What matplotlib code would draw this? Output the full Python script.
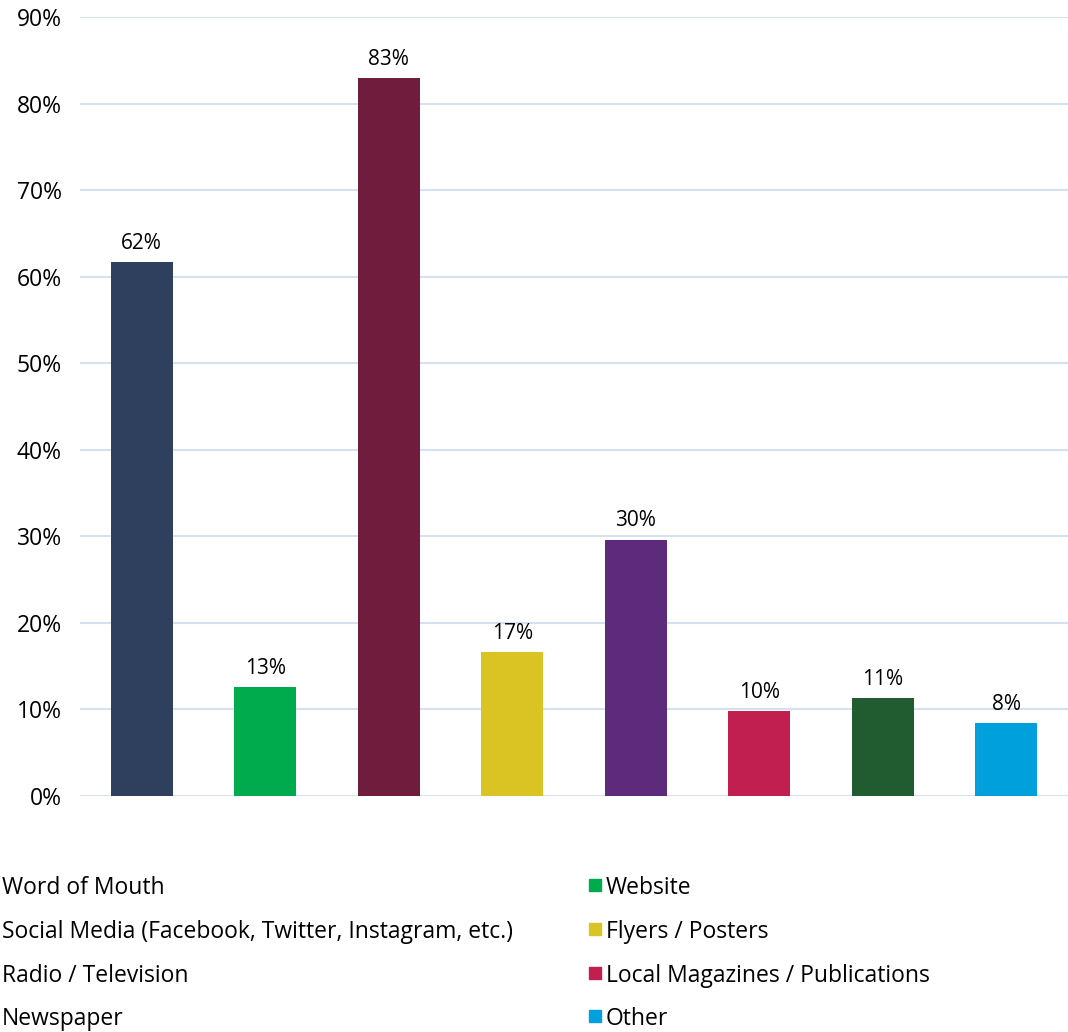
import matplotlib.pyplot as plt
from matplotlib.patches import Rectangle
import numpy as np

plt.rcParams.update({
    "font.family": ["Open Sans", "DejaVu Sans"],
    "font.size": 15,
})

categories = ['Word of Mouth', 'Website',
              'Social Media (Facebook, Twitter, Instagram, etc.)', 'Flyers / Posters',
              'Radio / Television', 'Local Magazines / Publications',
              'Newspaper', 'Other']
values = [61.7, 12.6, 82.9, 16.6, 29.6, 9.8, 11.3, 8.4]
labels = ['62%', '13%', '83%', '17%', '30%', '10%', '11%', '8%']
colors = ['#2F405F', '#00AB4E', '#6F1C3D', '#D9C424', '#5E2A7B', '#C11F4F', '#215B30', '#00A0DD']

W, H = 1068, 1032
fig = plt.figure(figsize=(W / 100, H / 100), dpi=100)
ax = fig.add_axes([80 / W, 1 - 796 / H, (1068 - 80) / W, (796 - 17) / H])

x = np.arange(len(categories))
ax.bar(x, values, width=0.5, color=colors, zorder=3)
for xi, v, lab in zip(x, values, labels):
    ax.annotate(lab, (xi, v), xytext=(0, 6), textcoords='offset points',
                ha='center', va='bottom', fontsize=15)

ax.set_xlim(-0.5, len(categories) - 0.5)
ax.set_ylim(0, 90)
ax.set_yticks(np.arange(0, 91, 10))
ax.set_yticklabels([f'{t}%' for t in range(0, 91, 10)])
ax.set_xticks([])
ax.tick_params(axis='y', length=0, pad=13, labelsize=16.5)
ax.yaxis.grid(True, color='#D5E1F1', linewidth=1.5)
ax.set_axisbelow(True)
for s in ax.spines.values():
    s.set_visible(False)

# ---- legenda em duas colunas (marcadores da esquerda cortados) ----
rows_y = [885, 929, 973, 1016]
for i, y in enumerate(rows_y):
    left = categories[2 * i]
    right = categories[2 * i + 1]
    fig.text(2 / W, 1 - y / H, left, ha='left', va='center_baseline', fontsize=16.5)
    fig.add_artist(Rectangle(((589) / W, 1 - (y + 6) / H), 12 / W, 12 / H,
                             transform=fig.transFigure, color=colors[2 * i + 1]))
    fig.text(606 / W, 1 - y / H, right, ha='left', va='center_baseline', fontsize=16.5)

fig.savefig('out.png', dpi=100)
